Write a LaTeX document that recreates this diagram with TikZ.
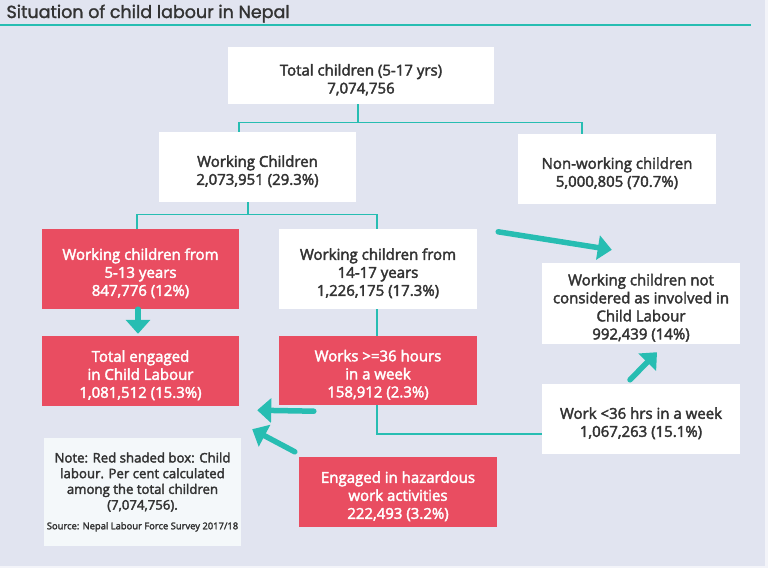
\documentclass[tikz,border=0pt]{standalone}
\usepackage{fontspec}
\setmainfont{Open Sans}
\newfontfamily\boxfont{Open Sans}[FakeBold=2.5]
\newfontfamily\titlefont{Poppins}[FakeBold=1.5]
\usetikzlibrary{arrows.meta,calc}
\definecolor{bgcol}{HTML}{E1E4F0}
\definecolor{redcol}{HTML}{E94D61}
\definecolor{tealcol}{HTML}{27BDB2}
\definecolor{textcol}{HTML}{333333}
\definecolor{notecol}{HTML}{F4F8FA}
% extra room above the first line, so the text sits a little low in its box
\newcommand{\toproom}{\rule{0pt}{20pt}}

\begin{document}
\begin{tikzpicture}[x=1pt,y=-1pt,
    box/.style={fill=white, text=textcol, align=center, inner sep=0pt,
      font=\boxfont\fontsize{15}{18}\selectfont,
      minimum width=198pt, minimum height=70pt},
    redbox/.style={box, fill=redcol, text=white},
    link/.style={draw=tealcol, line width=1.3pt},
    bigarrow/.style={draw=tealcol, line width=5.5pt, line cap=round,
      -{Triangle[length=14pt,width=24pt]}}]
            % background and title
            \useasboundingbox (0,0) rectangle (768,568);
            \fill[white!60!bgcol] (0,0) rectangle (768,568);
            \fill[bgcol] (0,0) rectangle (765,566);
            \node[anchor=base west, text=textcol, font=\titlefont\fontsize{17.5}{20}\selectfont] (title) at (3,18) {Situation of child labour in Nepal};
            \draw[tealcol, line width=1.8pt] (0,25) -- (751,25);

            % boxes
            \node[box, minimum width=266pt, minimum height=57pt] (total) at (361,75.5) {\toproom Total children (5-17 yrs)\\7,074,756};
            \node[box, minimum width=197pt] (working) at (257.5,167) {\toproom Working Children\\2,073,951 (29.3\%)};
            \node[box] (nonwork) at (617,169) {\toproom Non-working children\\5,000,805 (70.7\%)};
            \node[redbox, minimum width=197pt, minimum height=80pt] (young) at (140.5,269) {\toproom Working children from\\5-13 years\\847,776 (12\%)};
            \node[box, minimum height=80pt] (older) at (378,269) {\toproom Working children from\\14-17 years\\1,226,175 (17.3\%)};
            \node[box, minimum height=81pt] (notcl) at (641,303.5) {\toproom Working children not\\considered as involved in\\Child Labour\\992,439 (14\%)};
            \node[redbox, minimum width=197pt] (engaged) at (140.5,371) {\toproom Total engaged\\in Child Labour\\1,081,512 (15.3\%)};
            \node[redbox, minimum height=69pt] (long) at (378,370.5) {\toproom Works >=36 hours\\in a week\\158,912 (2.3\%)};
            \node[box] (short) at (641,419) {\toproom Work <36 hrs in a week\\1,067,263 (15.1\%)};
            \node[redbox] (hazard) at (398,492) {\toproom Engaged in hazardous\\work activities\\222,493 (3.2\%)};
            \node[box, fill=notecol, minimum width=197pt, minimum height=108pt,
                  font=\boxfont\fontsize{13.2}{15.7}\selectfont] (note) at (142.5,492)
                 {Note: Red shaded box: Child\\labour. Per cent calculated\\among the total children\\(7,074,756).\\[4pt]{\fontsize{9.4}{10}\selectfont Source: Nepal Labour Force Survey 2017/18}};

            % tree lines
            \draw[link] ([xshift=-3pt]total.south) -- ++(0,19);
            \draw[link] ([xshift=-18.5pt]working.north) -- ++(0,-9) -| ([xshift=-35pt]nonwork.north);
            \draw[link] ([xshift=-9.5pt]working.south) -- ++(0,13);
            \draw[link] ([xshift=-3.5pt]young.north) -- ++(0,-14) -| ([xshift=-1pt]older.north);
            \draw[link] ([xshift=-1pt]older.south) -- ([xshift=-1pt]long.north);
            \draw[link] ([xshift=-1pt]long.south) |- ([yshift=-15pt]short.west);

            % big arrows
            \draw[bigarrow] ($(older.north east)+(21,3)$) -- ($(notcl.north west)+(70,-13)$);
            \draw[bigarrow] ([xshift=-2.5pt]young.south) -- ([xshift=-2.5pt,yshift=2pt]engaged.north);
            \draw[bigarrow] ($(long.south west)+(35,6)$) -- ($(engaged.south east)+(18,4)$);
            \draw[bigarrow] ($(hazard.north west)+(-4,-5)$) -- ($(engaged.south east)+(13,23)$);
            \draw[bigarrow] ($(short.north)+(-11,-4)$) -- ($(notcl.south)+(16,8)$);
        \end{tikzpicture}
\end{document}
